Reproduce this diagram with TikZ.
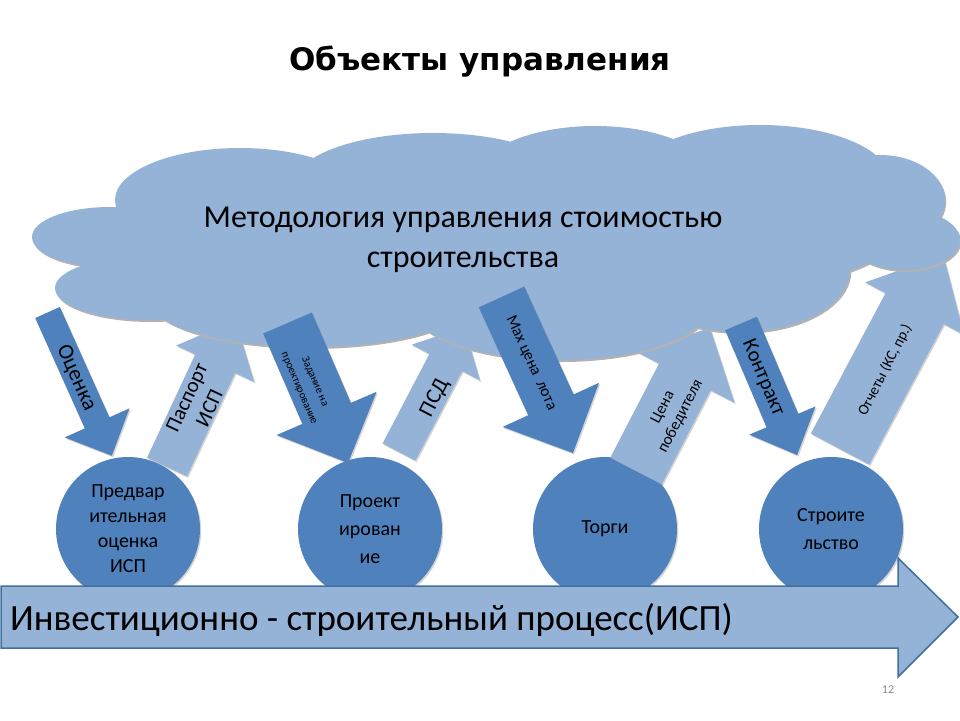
\documentclass[tikz,border=0pt]{standalone}
\usepackage{fontspec}
\setmainfont{Carlito}
\newfontfamily\titlefont{DejaVu Sans}
\usetikzlibrary{shadows}

\definecolor{cloudblue}{HTML}{95B3D7}
\definecolor{stageblue}{HTML}{4F81BD}
\definecolor{rimblue}{HTML}{41709F}

% block arrow: tail centre, angle, length, shaft width, head width, head length, style
\newcommand\blockarrow[7]{%
  \path[#7, shift={#1}, rotate=#2]
    (0,-#4/2) -- ({#3-#6},-#4/2) -- ({#3-#6},-#5/2) -- (#3,0)
    -- ({#3-#6},#5/2) -- ({#3-#6},#4/2) -- (0,#4/2) -- cycle;}

\tikzset{
  softshadow/.style={drop shadow={shadow xshift=1.2pt, shadow yshift=-1.5pt, opacity=.35}},
  uparrow/.style={fill=cloudblue, softshadow},
  downarrow/.style={fill=stageblue, softshadow},
  stage/.style={circle, fill=stageblue, minimum size=144pt, inner sep=0pt, align=center,
    font=\fontsize{20}{25}\selectfont, softshadow},
  tag/.style={inner sep=0pt, align=center},
}

\begin{document}
\begin{tikzpicture}[x=1pt, y=-1pt]

  \fill[white] (0,0) rectangle (960,720);
  \useasboundingbox (0,0) rectangle (960,720);

  \node[font=\titlefont\bfseries\fontsize{31}{38}\selectfont] (title) at (480,62) {Объекты управления};

  % stages
  \node[stage] (predv) at (128,529) {Предвар\\ительная\\оценка\\ИСП};
  \node[stage, font=\fontsize{20}{28}\selectfont] (proekt) at (370,529) {Проект\\ирован\\ие};
  \node[stage] (torgi) at (605,529) {Торги};
  \node[stage, font=\fontsize{20}{28}\selectfont] (stroit) at (831,529) {Строите\\льство};

  % arrows going up into the cloud
  \blockarrow{(167,467)}{65}{162}{44}{86}{48}{uparrow}
  \blockarrow{(399,452)}{62.4}{141}{37}{77}{40}{uparrow}
  \blockarrow{(636,471)}{62.6}{161}{58}{112}{55}{uparrow}
  \blockarrow{(840,449)}{62}{220}{66}{112}{61}{uparrow}

  % cloud
  \path[fill=cloudblue, preaction={fill=black!30, transform canvas={shift={(1.2pt,-2pt)}}}]
    (490,240) ellipse [x radius=400, y radius=70]
    (240,200) ellipse [x radius=125, y radius=52]
    (433,185) ellipse [x radius=140, y radius=52]
    (595,180) ellipse [x radius=120, y radius=54]
    (760,180) ellipse [x radius=130, y radius=55]
    (880,200) ellipse [x radius=65, y radius=45]
    (905,240) ellipse [x radius=55, y radius=30]
    (110,237) ellipse [x radius=78, y radius=30]
    (150,288) ellipse [x radius=95, y radius=32]
    (310,300) ellipse [x radius=160, y radius=47]
    (560,305) ellipse [x radius=150, y radius=55]
    (740,270) ellipse [x radius=110, y radius=62];

  \node[tag, font=\fontsize{32}{40}\selectfont] (method) at (463,240)
    {Методология управления стоимостью\\строительства};

  % arrows coming down from the cloud
  \blockarrow{(47.5,312.5)}{-65.8}{157}{27}{71}{36}{downarrow}
  \blockarrow{(287.5,323)}{-66.6}{152.5}{53}{109}{54}{downarrow}
  \blockarrow{(501.5,297)}{-65.4}{171.6}{50}{106}{53}{downarrow}
  \blockarrow{(741,323.5)}{-66.9}{143}{34.5}{72}{37.5}{downarrow}

  % process arrow
  \path[fill=cloudblue, draw=rimblue, line width=1.5pt]
    (1,586) -- (898,586) -- (898,558) -- (958,617) -- (898,677) -- (898,648) -- (1,648) -- cycle;
  \node[tag, anchor=west, font=\fontsize{37}{44}\selectfont] (isp) at (10,620)
    {Инвестиционно - строительный процесс(ИСП)};

  % arrow labels
  \node[tag, rotate=-65.8, font=\fontsize{22}{26}\selectfont] (ocenka) at (76,378) {Оценка};
  \node[tag, rotate=65, font=\fontsize{21}{25}\selectfont] (pasport) at (198,403) {Паспорт\\ИСП};
  \node[tag, rotate=-66.6, font=\fontsize{11}{17}\selectfont] (zadanie) at (307,385) {Задание на\\проектирование};
  \node[tag, rotate=62.4, font=\fontsize{22}{26}\selectfont] (psd) at (435,398) {ПСД};
  \node[tag, rotate=-65.4, font=\fontsize{16}{20}\selectfont] (maxlot) at (531,363) {Мах цена\ \ лота};
  \node[tag, rotate=62.6, font=\fontsize{16}{20}\selectfont] (cena) at (672,412) {Цена\\победителя};
  \node[tag, rotate=-66.9, font=\fontsize{21}{25}\selectfont] (kontrakt) at (763,378) {Контракт};
  \node[tag, rotate=63, font=\fontsize{15}{18}\selectfont] (otchety) at (885,370) {Отчеты (КС, пр.)};

  \node[tag, text=black!45, font=\fontsize{12}{14}\selectfont] (pagenum) at (888,690) {12};

\end{tikzpicture}
\end{document}
